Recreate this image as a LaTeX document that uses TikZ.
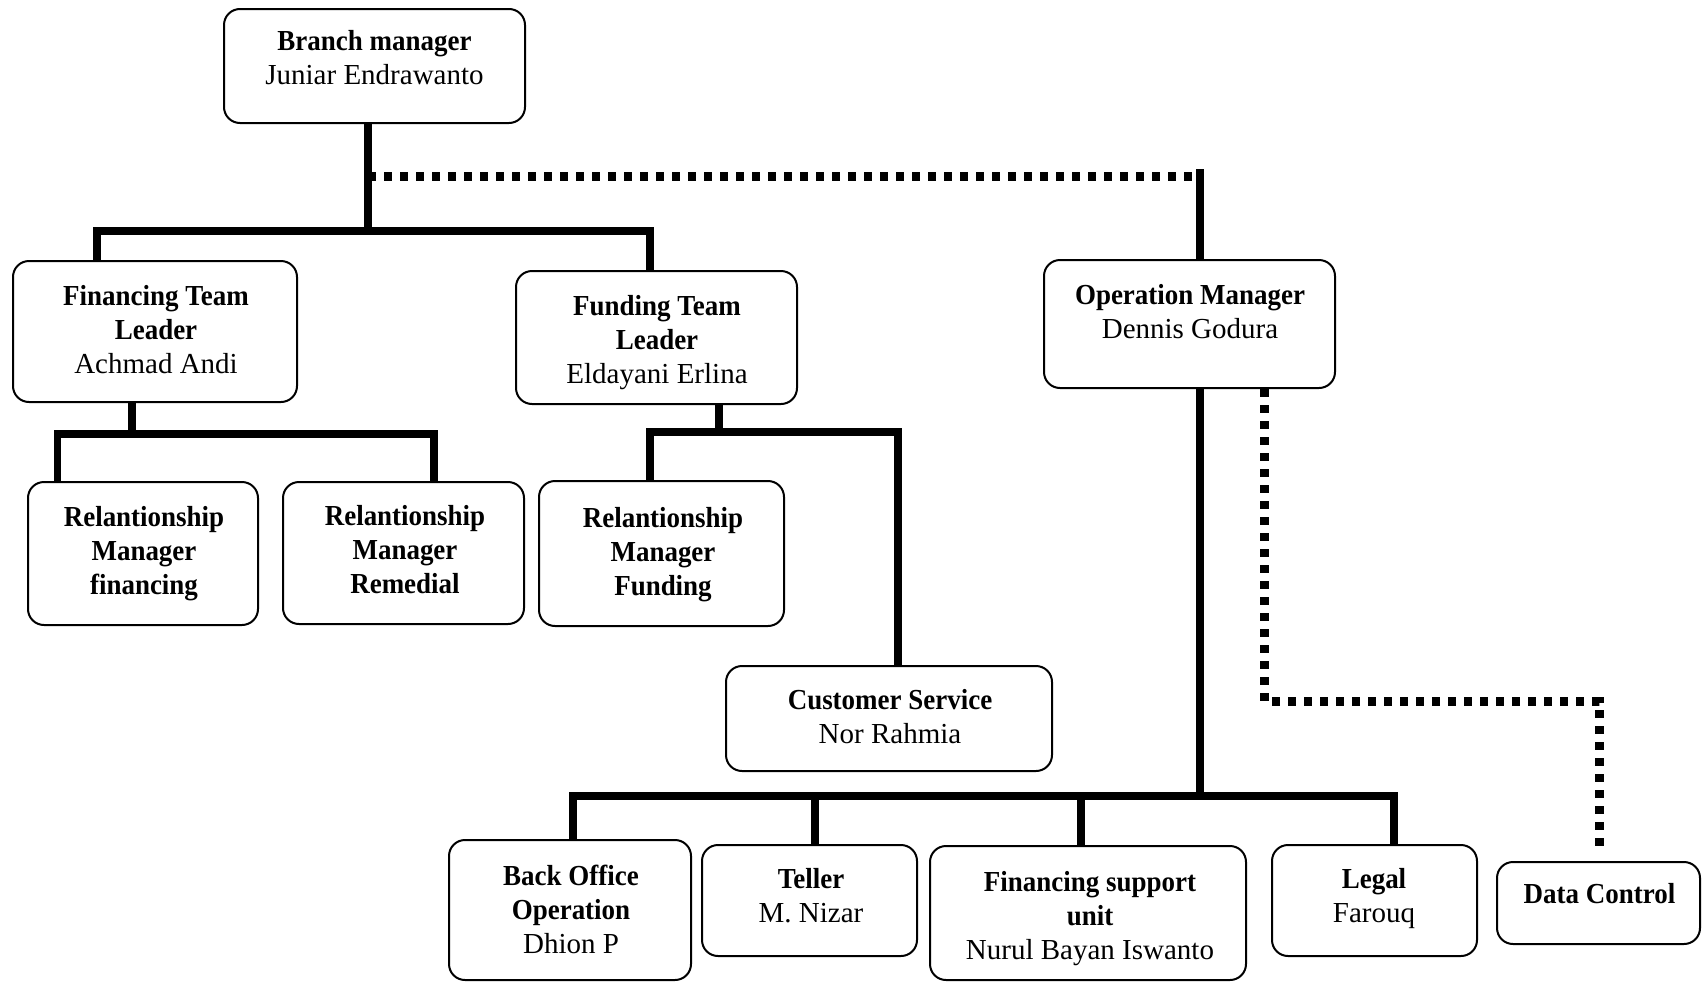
\documentclass[tikz,border=0pt]{standalone}
\usepackage{fontspec}
\setmainfont{Liberation Serif}[BoldFeatures={FakeStretch=0.93}]
\begin{document}
\begin{tikzpicture}[x=1pt,y=-1pt,
  box/.style={draw, line width=2pt, rounded corners=16pt, inner sep=0pt},
  lbl/.style={align=center, inner sep=0pt, font=\fontsize{29}{34}\selectfont},
  conn/.style={line width=7.5pt},
  dotconn/.style={line width=8.5pt, dash pattern=on 8.3pt off 7.7pt}]
\useasboundingbox (0,0) rectangle (1702,983);

% boxes
\node[box, minimum width=301pt, minimum height=114pt] (bm)  at (374.5,66) {};
\node[box, minimum width=284pt, minimum height=141pt] (ftl) at (155,331.5) {};
\node[box, minimum width=281pt, minimum height=133pt] (fdl) at (656.5,337.5) {};
\node[box, minimum width=291pt, minimum height=128pt] (om)  at (1189.5,324) {};
\node[box, minimum width=230pt, minimum height=143pt] (rmf) at (143,553.5) {};
\node[box, minimum width=241pt, minimum height=142pt] (rmr) at (403.5,553) {};
\node[box, minimum width=245pt, minimum height=145pt] (rmd) at (661.5,553.5) {};
\node[box, minimum width=326pt, minimum height=105pt] (cs)  at (889,718.5) {};
\node[box, minimum width=242pt, minimum height=140pt] (bo)  at (570,910) {};
\node[box, minimum width=215pt, minimum height=111pt] (tel) at (809.5,900.5) {};
\node[box, minimum width=316pt, minimum height=134pt] (fsu) at (1088,913) {};
\node[box, minimum width=205pt, minimum height=111pt] (leg) at (1374.5,900.5) {};
\node[box, minimum width=203pt, minimum height=82pt]  (dc)  at (1598.5,903) {};

% texts
\node[lbl] (bmT)  at (374.5,61) {\strut\textbf{Branch manager}\\\strut Juniar Endrawanto};
\node[lbl] (ftlT) at (156,332.7) {\strut\textbf{Financing Team}\\\strut\textbf{Leader}\\\strut Achmad Andi};
\node[lbl] (fdlT) at (657,343) {\strut\textbf{Funding Team}\\\strut\textbf{Leader}\\\strut Eldayani Erlina};
\node[lbl] (omT)  at (1190,314.5) {\strut\textbf{Operation Manager}\\\strut Dennis Godura};
\node[lbl] (rmfT) at (144,554) {\strut\textbf{Relantionship}\\\strut\textbf{Manager}\\\strut\textbf{financing}};
\node[lbl] (rmrT) at (405,553) {\strut\textbf{Relantionship}\\\strut\textbf{Manager}\\\strut\textbf{Remedial}};
\node[lbl] (rmdT) at (663,555) {\strut\textbf{Relantionship}\\\strut\textbf{Manager}\\\strut\textbf{Funding}};
\node[lbl] (csT)  at (890,720) {\strut\textbf{Customer Service}\\\strut Nor Rahmia};
\node[lbl] (boT)  at (571,913) {\strut\textbf{Back Office}\\\strut\textbf{Operation}\\\strut Dhion P};
\node[lbl] (telT) at (811,899) {\strut\textbf{Teller}\\\strut M. Nizar};
\node[lbl] (fsuT) at (1090,918.7) {\strut\textbf{Financing support}\\\strut\textbf{unit}\\\strut Nurul Bayan Iswanto};
\node[lbl] (legT) at (1374,899) {\strut\textbf{Legal}\\\strut Farouq};
\node[lbl] (dcT)  at (1599.5,897) {\strut\textbf{Data Control}};

% junction coordinates
\coordinate (j1) at (368,231);
\coordinate (jL) at (97,231);
\coordinate (jR) at (650,231);
\coordinate (d1) at (368,176.5);
\coordinate (d2) at (1196,176.5);
\coordinate (o1) at (1200,169);
\coordinate (f1) at (132,434);
\coordinate (fL) at (57.5,434);
\coordinate (fR) at (434,434);
\coordinate (g1) at (719,432);
\coordinate (gL) at (650,432);
\coordinate (gR) at (898,432);
\coordinate (h1) at (1200,796);
\coordinate (hL) at (573,796);
\coordinate (hA) at (815,796);
\coordinate (hB) at (1081,796);
\coordinate (hR) at (1394,796);
\coordinate (k1) at (1264.5,701.5);
\coordinate (k2) at (1599.5,701.5);
\coordinate (kEnd) at (1599.5,853);

% connectors
\draw[conn] (bm.south -| j1) -- (j1);
\draw[conn] (ftl.north -| jL) -- (jL) -- (jR) -- (fdl.north -| jR);
\draw[dotconn] (d1) -- (d2);
\draw[conn] (o1) -- (om.north -| o1);

\draw[conn] (ftl.south -| f1) -- (f1);
\draw[conn] (rmf.north -| fL) -- (fL) -- (fR) -- (rmr.north -| fR);

\draw[conn] (fdl.south -| g1) -- (g1);
\draw[conn] (rmd.north -| gL) -- (gL) -- (gR) -- (cs.north -| gR);

\draw[conn] (om.south -| h1) -- (h1);
\draw[conn] (bo.north -| hL) -- (hL) -- (hR) -- (leg.north -| hR);
\draw[conn] (hA) -- (tel.north -| hA);
\draw[conn] (hB) -- (fsu.north -| hB);

\draw[dotconn] (om.south -| k1) -- (k1) -- (k2) -- (kEnd);
\end{tikzpicture}
\end{document}
